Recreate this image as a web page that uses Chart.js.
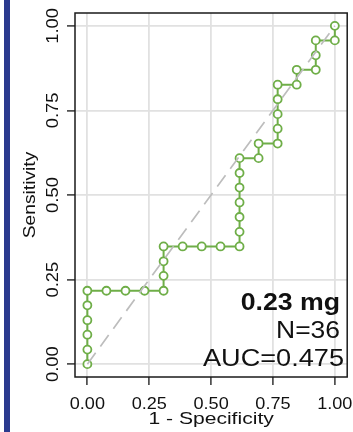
<!DOCTYPE html>
<html>
<head>
<meta charset="utf-8">
<script src="https://cdn.jsdelivr.net/npm/chart.js@4/dist/chart.umd.min.js"></script>
<style>
  html, body { margin: 0; padding: 0; background: #fff; }
  #roc { display: block; }
</style>
</head>
<body>
<canvas id="roc" width="353" height="432"></canvas>
<script>
// ROC curve points (1 - specificity, sensitivity)
const fpr = [0, 0, 0, 0, 0, 0, 0.077, 0.154, 0.231, 0.308, 0.308, 0.308, 0.308,
  0.385, 0.462, 0.538, 0.615, 0.615, 0.615, 0.615, 0.615, 0.615, 0.615,
  0.692, 0.692, 0.769, 0.769, 0.769, 0.769, 0.769, 0.846, 0.846, 0.923, 0.923, 0.923, 1, 1];
const tpr = [0, 0.043, 0.087, 0.130, 0.174, 0.217, 0.217, 0.217, 0.217, 0.217, 0.261, 0.304, 0.348,
  0.348, 0.348, 0.348, 0.348, 0.391, 0.435, 0.478, 0.522, 0.565, 0.609,
  0.609, 0.652, 0.652, 0.696, 0.739, 0.783, 0.826, 0.826, 0.870, 0.870, 0.913, 0.957, 0.957, 1];

// chance line
const refX = [0, 1];
const refY = [0, 1];

const tickValues = [0, 0.25, 0.5, 0.75, 1];
const tickLabels = ['0.00', '0.25', '0.50', '0.75', '1.00'];

const xTitle = '1 - Specificity';
const yTitle = 'Sensitivity';
const noteLines = ['0.23 mg', 'N=36', 'AUC=0.475'];

const GREEN = '#6fae48';
const FONT = '"Liberation Sans", Arial, Helvetica, sans-serif';
const INK = '#111';

// text drawn with a slight horizontal stretch along its own direction
function label(ctx, text, x, y, o) {
  ctx.save();
  ctx.translate(x, y);
  if (o.rotate) ctx.rotate(o.rotate);
  ctx.scale(o.stretch || 1, 1);
  ctx.font = o.font;
  ctx.fillStyle = INK;
  ctx.textAlign = o.align || 'center';
  ctx.textBaseline = 'alphabetic';
  ctx.fillText(text, 0, 0);
  ctx.restore();
}

const decor = {
  id: 'decor',
  beforeDraw(chart) {
    const ctx = chart.ctx;
    ctx.save();
    ctx.fillStyle = '#2a3a8e';
    ctx.fillRect(4, 0, 6, chart.height);
    ctx.restore();
  },
  afterDraw(chart) {
    const ctx = chart.ctx;
    const a = chart.chartArea;
    const xs = chart.scales.x, ys = chart.scales.y;

    // plot frame
    ctx.save();
    ctx.strokeStyle = '#1a1a1a';
    ctx.lineWidth = 1.5;
    ctx.strokeRect(a.left, a.top, a.right - a.left, a.bottom - a.top);
    ctx.restore();

    // tick labels
    tickValues.forEach((v, i) => {
      label(ctx, tickLabels[i], xs.getPixelForValue(v), 408.5,
        { font: '16px ' + FONT, stretch: 1.13 });
      label(ctx, tickLabels[i], 58, ys.getPixelForValue(v),
        { font: '16px ' + FONT, stretch: 1.15, rotate: -Math.PI / 2 });
    });

    // axis titles
    label(ctx, xTitle, (a.left + a.right) / 2, 424, { font: '17px ' + FONT, stretch: 1.24 });
    label(ctx, yTitle, 34.5, (a.top + a.bottom) / 2, { font: '17px ' + FONT, stretch: 1.13, rotate: -Math.PI / 2 });

    // dose / sample size / AUC note
    label(ctx, noteLines[0], 340, 310, { font: 'bold 23px ' + FONT, stretch: 1.16, align: 'right' });
    label(ctx, noteLines[1], 340, 337.5, { font: '23px ' + FONT, stretch: 1.15, align: 'right' });
    label(ctx, noteLines[2], 344, 366, { font: '23px ' + FONT, stretch: 1.18, align: 'right' });
  }
};

const fixedTicks = (axis) => { axis.ticks = tickValues.map(v => ({ value: v })); };

const axisGrid = {
  color: '#e1e1e1',
  lineWidth: 1.8,
  drawTicks: true,
  tickLength: 8,
  tickColor: '#333',
  tickWidth: 1.5
};

new Chart(document.getElementById('roc'), {
  type: 'scatter',
  data: {
    datasets: [
      {
        label: 'chance',
        data: refX.map((x, i) => ({ x, y: refY[i] })),
        showLine: true,
        borderColor: '#bdbdbd',
        borderWidth: 1.7,
        borderDash: [14, 8],
        pointRadius: 0,
        order: 0
      },
      {
        label: 'ROC',
        data: fpr.map((x, i) => ({ x, y: tpr[i] })),
        showLine: true,
        borderColor: GREEN,
        borderWidth: 2,
        pointRadius: 4,
        pointBorderWidth: 1.8,
        pointBorderColor: GREEN,
        pointBackgroundColor: '#fff',
        order: 1
      }
    ]
  },
  options: {
    responsive: false,
    animation: false,
    devicePixelRatio: 1,
    layout: { padding: { top: 13, right: 5, left: 0, bottom: 0 } },
    plugins: {
      legend: { display: false },
      tooltip: { enabled: false }
    },
    scales: {
      x: {
        type: 'linear',
        min: -0.05,
        max: 1.05,
        afterBuildTicks: fixedTicks,
        afterFit: (s) => { s.height = 55; },
        grid: axisGrid,
        border: { display: false },
        ticks: { display: false }
      },
      y: {
        type: 'linear',
        min: -0.038,
        max: 1.038,
        afterBuildTicks: fixedTicks,
        afterFit: (s) => { s.width = 75; },
        grid: axisGrid,
        border: { display: false },
        ticks: { display: false }
      }
    }
  },
  plugins: [decor]
});
</script>
</body>
</html>
